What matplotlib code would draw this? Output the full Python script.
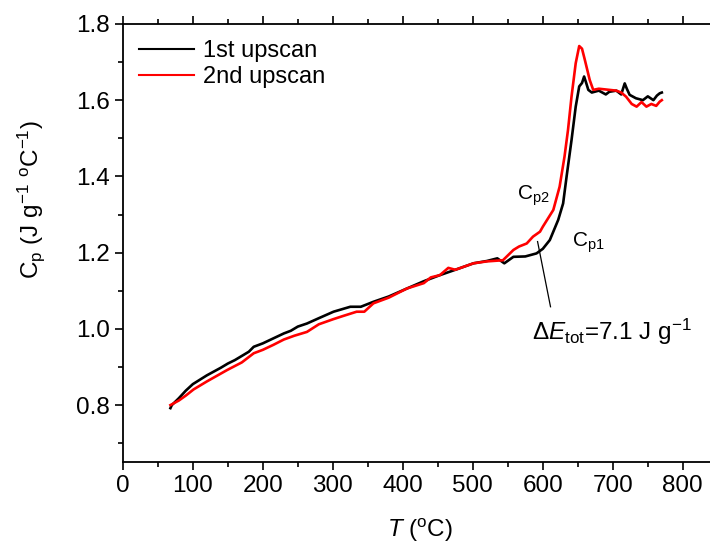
import matplotlib
matplotlib.use('Agg')
import matplotlib.pyplot as plt
from matplotlib.ticker import MultipleLocator

plt.rcParams['font.family'] = ['Liberation Sans', 'DejaVu Sans']
plt.rcParams['mathtext.fontset'] = 'custom'
plt.rcParams['mathtext.rm'] = 'Liberation Sans'
plt.rcParams['mathtext.it'] = 'Liberation Sans:italic'
plt.rcParams['mathtext.default'] = 'regular'

# 1st upscan
t1 = [68, 70, 80, 90, 100, 120, 140, 150, 160, 180, 187, 200, 215, 230, 240,
      250, 263, 280, 301, 325, 340, 358, 380, 406, 430, 453, 475, 501, 520,
      535, 545, 558, 575, 591, 600, 610, 622, 629, 634, 641, 647, 652, 656,
      659, 662, 665, 670, 680, 690, 695, 705, 712, 717, 720, 724, 733, 743,
      750, 758, 763, 767, 770]
cp1 = [0.792, 0.800, 0.818, 0.838, 0.855, 0.878, 0.898, 0.909, 0.918, 0.940,
       0.953, 0.962, 0.975, 0.988, 0.995, 1.006, 1.014, 1.028, 1.045, 1.058,
       1.058, 1.071, 1.085, 1.106, 1.125, 1.141, 1.155, 1.172, 1.178, 1.185,
       1.172, 1.189, 1.190, 1.198, 1.210, 1.233, 1.286, 1.329, 1.400, 1.495,
       1.583, 1.636, 1.645, 1.662, 1.645, 1.627, 1.620, 1.625, 1.615, 1.622,
       1.625, 1.615, 1.644, 1.630, 1.614, 1.605, 1.600, 1.610, 1.600, 1.612,
       1.618, 1.620]

# 2nd upscan
t2 = [68, 80, 90, 101, 120, 149, 170, 187, 200, 215, 230, 245, 263, 280, 300,
      315, 334, 345, 358, 380, 406, 430, 440, 453, 465, 475, 501, 520, 543,
      558, 566, 577, 586, 596, 600, 615, 624, 631, 636, 641, 647, 652, 656,
      660, 667, 672, 680, 695, 705, 712, 719, 727, 734, 741, 748, 755, 762,
      767, 770]
cp2 = [0.800, 0.812, 0.825, 0.841, 0.862, 0.892, 0.912, 0.936, 0.945, 0.958,
       0.972, 0.982, 0.992, 1.012, 1.025, 1.034, 1.045, 1.045, 1.067, 1.082,
       1.106, 1.120, 1.135, 1.141, 1.160, 1.155, 1.172, 1.177, 1.180, 1.207,
       1.216, 1.224, 1.242, 1.255, 1.268, 1.312, 1.373, 1.452, 1.522, 1.609,
       1.697, 1.742, 1.735, 1.706, 1.653, 1.627, 1.630, 1.627, 1.625, 1.620,
       1.609, 1.590, 1.583, 1.595, 1.583, 1.590, 1.585, 1.596, 1.600]

fig = plt.figure(figsize=(7.1, 5.5), dpi=100)
ax = fig.add_axes([0.173, 0.1595, 0.838, 0.797])

ax.plot(t1, cp1, color='black', lw=1.9, label='1st upscan')
ax.plot(t2, cp2, color='red', lw=1.9, label='2nd upscan')

# marker line for the energy annotation
ax.plot([592.5, 611], [1.229, 1.058], color='black', lw=0.9)

ax.text(563, 1.338, r'C$_{\mathrm{p2}}$', fontsize=15)
ax.text(641, 1.215, r'C$_{\mathrm{p1}}$', fontsize=15)
ax.text(584, 0.97, r'$\Delta$$\it{E}$$_{\mathrm{tot}}$=7.1 J g$^{-1}$',
        fontsize=17.5)

ax.set_xlim(0, 850)
ax.set_ylim(0.65, 1.8)
ax.xaxis.set_major_locator(MultipleLocator(100))
ax.xaxis.set_minor_locator(MultipleLocator(50))
ax.yaxis.set_major_locator(MultipleLocator(0.2))
ax.yaxis.set_minor_locator(MultipleLocator(0.1))
ax.yaxis.set_major_formatter(plt.FormatStrFormatter('%.1f'))

ax.tick_params(which='both', direction='out', top=True, right=True,
               width=1.2, labelsize=17.5)
ax.tick_params(which='major', length=6)
ax.tick_params(which='minor', length=3.5)
for s in ax.spines.values():
    s.set_linewidth(1.3)

ax.set_xlabel(r'$\it{T}$ ($^{\mathrm{o}}$C)', fontsize=17.5)
ax.set_ylabel(r'C$_{\mathrm{p}}$ (J g$^{-1}$ $^{\mathrm{o}}$C$^{-1}$)', fontsize=17.5)
ax.yaxis.set_label_coords(-0.128, 0.60)
ax.xaxis.set_label_coords(0.5, -0.125)

leg = ax.legend(loc='upper left', frameon=False, fontsize=17, handlelength=2.3,
                handletextpad=0.4, labelspacing=0.15, borderaxespad=0.3)
for h in leg.get_lines():
    h.set_linewidth(1.5)

fig.savefig('out.png', dpi=100)
